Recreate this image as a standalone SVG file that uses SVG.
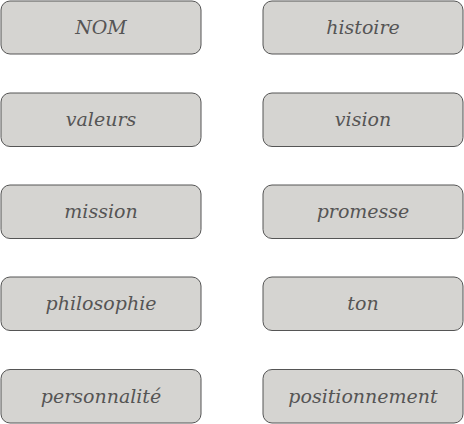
<svg xmlns="http://www.w3.org/2000/svg" width="464" height="424" viewBox="0 0 464 424">
<style>
.b{fill:#d5d4d1;stroke:#555555;stroke-width:1}
.t{font-family:"DejaVu Serif",serif;font-style:italic;font-size:19px;fill:#555555;text-anchor:middle}
</style>
<rect width="464" height="424" fill="#ffffff"/>
<g id="nom"><rect class="b" x="1" y="1" width="200" height="53" rx="9"/><text class="t" x="101" y="34">NOM</text></g>
<g id="histoire"><rect class="b" x="263" y="1" width="200" height="53" rx="9"/><text class="t" x="363" y="34">histoire</text></g>
<g id="valeurs"><rect class="b" x="1" y="93" width="200" height="53.5" rx="9"/><text class="t" x="101" y="126">valeurs</text></g>
<g id="vision"><rect class="b" x="263" y="93" width="200" height="53.5" rx="9"/><text class="t" x="363" y="126">vision</text></g>
<g id="mission"><rect class="b" x="1" y="185" width="200" height="53.5" rx="9"/><text class="t" x="101" y="218">mission</text></g>
<g id="promesse"><rect class="b" x="263" y="185" width="200" height="53.5" rx="9"/><text class="t" x="363" y="218">promesse</text></g>
<g id="philosophie"><rect class="b" x="1" y="277" width="200" height="53.5" rx="9"/><text class="t" x="101" y="310">philosophie</text></g>
<g id="ton"><rect class="b" x="263" y="277" width="200" height="53.5" rx="9"/><text class="t" x="363" y="310">ton</text></g>
<g id="personnalite"><rect class="b" x="1" y="369.5" width="200" height="53.5" rx="9"/><text class="t" x="101" y="402.5">personnalité</text></g>
<g id="positionnement"><rect class="b" x="263" y="369.5" width="200" height="53.5" rx="9"/><text class="t" x="363" y="402.5">positionnement</text></g>
<g id="connectors"/>
</svg>
